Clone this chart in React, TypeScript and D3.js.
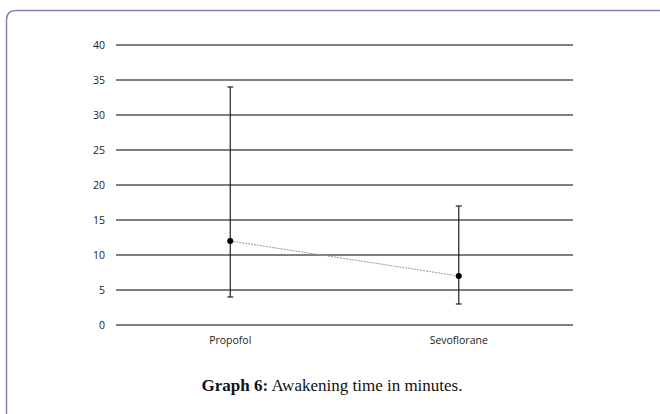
import React, { useEffect, useRef } from 'react';
import * as d3 from 'd3';

const groups = ['Propofol', 'Sevoflorane'];
const means = [12, 7];
const lows = [4, 3];
const highs = [34, 17];
const yTicks = [0, 5, 10, 15, 20, 25, 30, 35, 40];

const App = () => {
  const ref = useRef<SVGSVGElement>(null);

  useEffect(() => {
    if (!ref.current) return;
    const width = 660;
    const height = 414;
    const svg = d3.select(ref.current);
    svg.selectAll('*').remove();

    // outer frame, cut by the page edge on right and bottom
    svg.append('path')
      .attr('d', `M6.5,${height + 5} L6.5,20 Q6.5,10.5 16,10.5 L${width + 5},10.5`)
      .attr('fill', 'none')
      .attr('stroke', '#8282b4')
      .attr('stroke-width', 1.5);

    const x = d3.scaleBand().domain(groups).range([116, 573]).padding(0);
    const y = d3.scaleLinear().domain([0, 40]).range([325, 45]);

    const grid = svg.append('g');
    grid.selectAll('line')
      .data(yTicks)
      .join('line')
      .attr('x1', 116)
      .attr('x2', 573)
      .attr('y1', d => y(d))
      .attr('y2', d => y(d))
      .attr('stroke', '#555')
      .attr('stroke-width', 1.4);

    grid.selectAll('text')
      .data(yTicks)
      .join('text')
      .attr('x', 105)
      .attr('y', d => y(d))
      .attr('dy', '0.35em')
      .attr('text-anchor', 'end')
      .attr('font-family', 'Open Sans, sans-serif')
      .attr('font-size', 10.5)
      .attr('fill', '#222')
      .text(d => d);

    const cx = (g: string) => (x(g) as number) + x.bandwidth() / 2;

    svg.append('g')
      .selectAll('text')
      .data(groups)
      .join('text')
      .attr('x', d => cx(d))
      .attr('y', 344)
      .attr('text-anchor', 'middle')
      .attr('font-family', 'Open Sans, sans-serif')
      .attr('font-size', 10.5)
      .attr('fill', '#222')
      .text(d => d);

    // dotted line between means
    const line = d3.line<number>()
      .x((_, i) => cx(groups[i]))
      .y(d => y(d));
    svg.append('path')
      .attr('d', line(means))
      .attr('fill', 'none')
      .attr('stroke', '#999')
      .attr('stroke-width', 1)
      .attr('stroke-dasharray', '2,1');

    const bars = svg.append('g').attr('stroke', '#222').attr('stroke-width', 1.2);
    groups.forEach((g, i) => {
      const px = cx(g);
      bars.append('line').attr('x1', px).attr('x2', px).attr('y1', y(highs[i])).attr('y2', y(lows[i]));
      bars.append('line').attr('x1', px - 3).attr('x2', px + 3).attr('y1', y(highs[i])).attr('y2', y(highs[i]));
      bars.append('line').attr('x1', px - 3).attr('x2', px + 3).attr('y1', y(lows[i])).attr('y2', y(lows[i]));
    });

    svg.append('g')
      .selectAll('circle')
      .data(means)
      .join('circle')
      .attr('cx', (_, i) => cx(groups[i]))
      .attr('cy', d => y(d))
      .attr('r', 3)
      .attr('fill', '#000');

    const cap = svg.append('text')
      .attr('x', 332)
      .attr('y', 391)
      .attr('text-anchor', 'middle')
      .attr('font-family', 'Liberation Serif, Times New Roman, serif')
      .attr('font-size', 17)
      .attr('fill', '#111');
    cap.append('tspan').attr('font-weight', 'bold').text('Graph 6:');
    cap.append('tspan').text(' Awakening time in minutes.');
  }, []);

  return <svg ref={ref} width={660} height={414} style={{ position: 'absolute', left: 0, top: 0 }} />;
};

export default App;
